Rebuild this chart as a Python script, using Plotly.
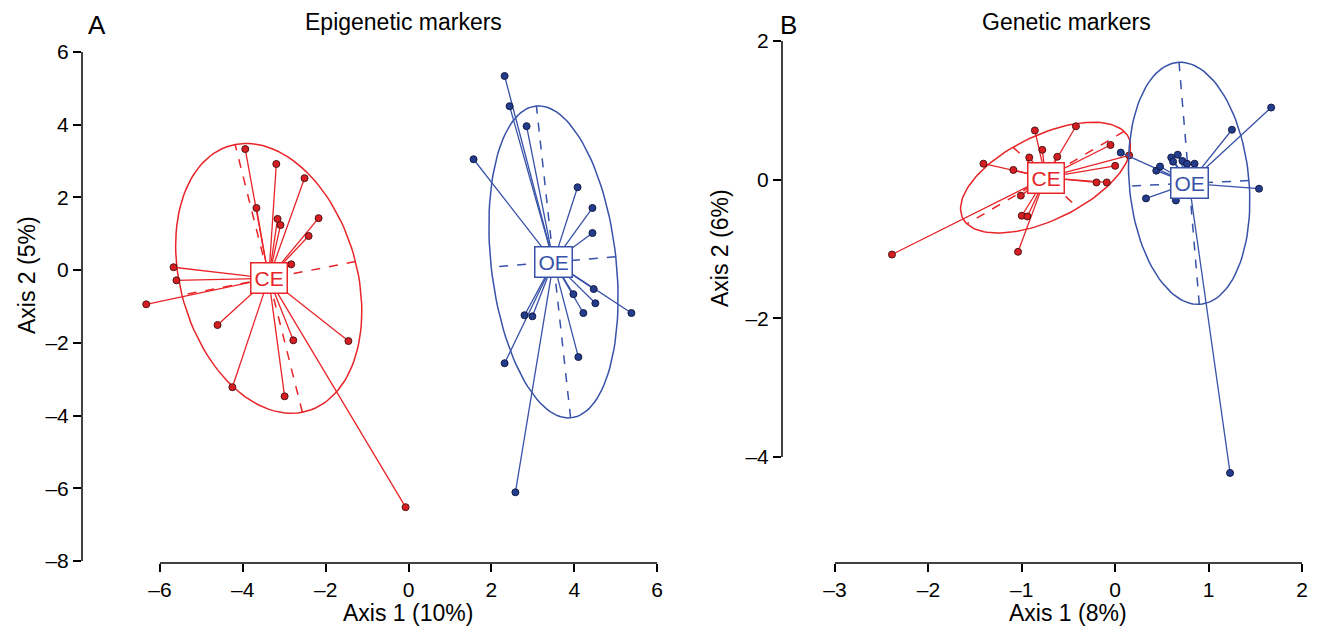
import numpy as np
import plotly.graph_objects as go

# ---------------- data ----------------
# Panel A: Epigenetic markers
epi_ce_x = [-3.94, -3.19, -2.51, -3.67, -3.16, -3.09, -2.17, -2.41, -2.83, -5.67, -5.60, -6.33, -4.61, -2.78, -1.45, -4.25, -2.99, -0.07]
epi_ce_y = [3.33, 2.92, 2.53, 1.71, 1.41, 1.24, 1.43, 0.94, 0.16, 0.08, -0.28, -0.94, -1.51, -1.93, -1.95, -3.22, -3.47, -6.52]
epi_oe_x = [2.32, 2.44, 2.85, 1.57, 4.08, 4.44, 4.44, 4.47, 3.98, 4.51, 4.22, 5.38, 2.80, 2.99, 4.10, 2.32, 2.58]
epi_oe_y = [5.34, 4.51, 3.96, 3.05, 2.28, 1.71, 1.02, -0.52, -0.66, -0.91, -1.18, -1.18, -1.24, -1.27, -2.39, -2.56, -6.11]

# Panel B: Genetic markers
gen_ce_x = [-2.39, -1.04, -1.41, -1.09, -0.86, -0.42, -0.78, -0.92, -0.62, -0.05, 0.00, 0.15, -0.20, -0.09, -1.01, -1.00, -0.94]
gen_ce_y = [-1.08, -1.04, 0.23, 0.14, 0.71, 0.77, 0.43, 0.32, 0.33, 0.50, 0.20, 0.35, -0.04, -0.04, -0.23, -0.52, -0.53]
gen_oe_x = [1.67, 1.25, 1.54, 0.33, 0.65, 0.06, 0.44, 0.48, 0.60, 0.62, 0.67, 0.72, 0.77, 0.85, 1.23]
gen_oe_y = [1.04, 0.72, -0.13, -0.27, -0.30, 0.39, 0.13, 0.19, 0.32, 0.26, 0.36, 0.27, 0.23, 0.23, -4.23]

group_labels = ["CE", "OE"]
panel_titles = ["Epigenetic markers", "Genetic markers"]
panel_letters = ["A", "B"]
x_titles = ["Axis 1 (10%)", "Axis 1 (8%)"]
y_titles = ["Axis 2 (5%)", "Axis 2 (6%)"]
a_xticks = [-6, -4, -2, 0, 2, 4, 6]
a_yticks = [-8, -6, -4, -2, 0, 2, 4, 6]
b_xticks = [-3, -2, -1, 0, 1, 2]
b_yticks = [-4, -2, 0, 2]

# ---------------- styling ----------------
OFF = 8                      # page body margin
W, H = 1320 - OFF, 633 - OFF
FONT = "Liberation Sans, Arial, Helvetica, sans-serif"
RED = "rgb(232,36,40)"
BLUE = "rgb(55,82,168)"
RED_PT = "rgb(214,30,34)"
BLUE_PT = "rgb(36,60,140)"
PT_EDGE_R = "rgb(80,20,20)"
PT_EDGE_B = "rgb(20,28,70)"


def px_x(p):
    return (p - OFF) / W


def px_y(p):
    return 1 - (p - OFF) / H


def lbl(v):
    return ("\u2013" + str(abs(v))) if v < 0 else str(v)


def ellipse(x, y, coeff=1.5, n=120):
    x = np.asarray(x, float)
    y = np.asarray(y, float)
    mx, my = x.mean(), y.mean()
    cov = np.cov(np.vstack([x, y]), bias=True)
    evals, evecs = np.linalg.eigh(cov)
    l1, l2 = np.sqrt(max(evals[1], 0)), np.sqrt(max(evals[0], 0))
    v1, v2 = evecs[:, 1], evecs[:, 0]
    t = np.linspace(0, 2 * np.pi, n + 1)
    ex = mx + coeff * (l1 * v1[0] * np.cos(t) + l2 * v2[0] * np.sin(t))
    ey = my + coeff * (l1 * v1[1] * np.cos(t) + l2 * v2[1] * np.sin(t))
    ax = [mx - coeff * l1 * v1[0], mx + coeff * l1 * v1[0], None,
          mx - coeff * l2 * v2[0], mx + coeff * l2 * v2[0]]
    ay = [my - coeff * l1 * v1[1], my + coeff * l1 * v1[1], None,
          my - coeff * l2 * v2[1], my + coeff * l2 * v2[1]]
    return mx, my, ex, ey, ax, ay


fig = go.Figure()
annotations = []


def add_group(x, y, label, col, ptcol, edge, xa, ya):
    mx, my, ex, ey, ax, ay = ellipse(x, y)
    sx, sy = [], []
    for xi, yi in zip(x, y):
        sx += [xi, mx, None]
        sy += [yi, my, None]
    fig.add_trace(go.Scatter(x=sx, y=sy, mode="lines", line=dict(color=col, width=1.3),
                             xaxis=xa, yaxis=ya, hoverinfo="skip", showlegend=False))
    fig.add_trace(go.Scatter(x=list(ex), y=list(ey), mode="lines", line=dict(color=col, width=1.5),
                             xaxis=xa, yaxis=ya, hoverinfo="skip", showlegend=False))
    fig.add_trace(go.Scatter(x=ax, y=ay, mode="lines", line=dict(color=col, width=1.5, dash="dash"),
                             xaxis=xa, yaxis=ya, hoverinfo="skip", showlegend=False))
    fig.add_trace(go.Scatter(x=x, y=y, mode="markers",
                             marker=dict(size=7, color=ptcol, line=dict(color=edge, width=1)),
                             xaxis=xa, yaxis=ya, showlegend=False, name=label))
    annotations.append(dict(x=mx, y=my, xref=xa, yref=ya, text=label, showarrow=False,
                            font=dict(family=FONT, size=21, color=col), bgcolor="white",
                            bordercolor=col, borderwidth=1.5, borderpad=3,
                            xanchor="center", yanchor="middle"))


add_group(epi_ce_x, epi_ce_y, group_labels[0], RED, RED_PT, PT_EDGE_R, "x", "y")
add_group(epi_oe_x, epi_oe_y, group_labels[1], BLUE, BLUE_PT, PT_EDGE_B, "x", "y")
add_group(gen_ce_x, gen_ce_y, group_labels[0], RED, RED_PT, PT_EDGE_R, "x2", "y2")
add_group(gen_oe_x, gen_oe_y, group_labels[1], BLUE, BLUE_PT, PT_EDGE_B, "x2", "y2")

tickfont = dict(family=FONT, size=21, color="black")
common = dict(showgrid=False, zeroline=False, showline=False, ticks="outside", automargin=False,
              ticklen=8, tickwidth=1.5, tickcolor="black", tickfont=tickfont, fixedrange=True)

fig.update_layout(
    template="none",
    width=W, height=H, margin=dict(l=0, r=0, t=0, b=0, pad=0), autosize=False,
    paper_bgcolor="white", plot_bgcolor="white", showlegend=False,
    xaxis=dict(domain=[px_x(82), px_x(660)], range=[-7.88, 6.07], anchor="y",
               tickvals=a_xticks, ticktext=[lbl(v) for v in a_xticks], **common),
    yaxis=dict(domain=[px_y(563), px_y(52)], range=[-8.055, 6.0], anchor="x",
               tickvals=a_yticks, ticktext=[lbl(v) for v in a_yticks], **common),
    xaxis2=dict(domain=[px_x(782), px_x(1306)], range=[-3.567, 2.043], anchor="y2",
                tickvals=b_xticks, ticktext=[lbl(v) for v in b_xticks], **common),
    yaxis2=dict(domain=[px_y(563), px_y(41)], range=[-5.529, 2.0], anchor="x2",
                tickvals=b_yticks, ticktext=[lbl(v) for v in b_yticks], **common),
)

# axis lines spanning only the tick range (R style)
shapes = [
    dict(type="line", xref="x", yref="y domain", x0=a_xticks[0], x1=a_xticks[-1], y0=0, y1=0,
         line=dict(color="black", width=1.5)),
    dict(type="line", xref="x domain", yref="y", x0=0, x1=0, y0=a_yticks[0], y1=a_yticks[-1],
         line=dict(color="black", width=1.5)),
    dict(type="line", xref="x2", yref="y2 domain", x0=b_xticks[0], x1=b_xticks[-1], y0=0, y1=0,
         line=dict(color="black", width=1.5)),
    dict(type="line", xref="x2 domain", yref="y2", x0=0, x1=0, y0=b_yticks[0], y1=b_yticks[-1],
         line=dict(color="black", width=1.5)),
]

txt = dict(showarrow=False, xref="paper", yref="paper", xanchor="center", yanchor="middle")
letter = dict(showarrow=False, xref="paper", yref="paper", xanchor="center", yanchor="top", borderpad=0)
annotations += [
    dict(x=px_x(403), y=px_y(22), text=panel_titles[0], font=dict(family=FONT, size=23, color="black"), **txt),
    dict(x=px_x(1066), y=px_y(22), text=panel_titles[1], font=dict(family=FONT, size=23, color="black"), **txt),
    dict(x=px_x(97), y=px_y(8.5), text=panel_letters[0], font=dict(family=FONT, size=26, color="black"), **letter),
    dict(x=px_x(788), y=px_y(8.5), text=panel_letters[1], font=dict(family=FONT, size=26, color="black"), **letter),
    dict(x=px_x(408), y=px_y(613), text=x_titles[0], font=dict(family=FONT, size=23, color="black"), **txt),
    dict(x=px_x(1068), y=px_y(613), text=x_titles[1], font=dict(family=FONT, size=23, color="black"), **txt),
    dict(x=px_x(27), y=px_y(275), text=y_titles[0], textangle=-90, font=dict(family=FONT, size=23, color="black"), **txt),
    dict(x=px_x(720), y=px_y(248), text=y_titles[1], textangle=-90, font=dict(family=FONT, size=23, color="black"), **txt),
]

fig.update_layout(shapes=shapes, annotations=annotations)
fig.write_html("out.html", config={"displayModeBar": False})
